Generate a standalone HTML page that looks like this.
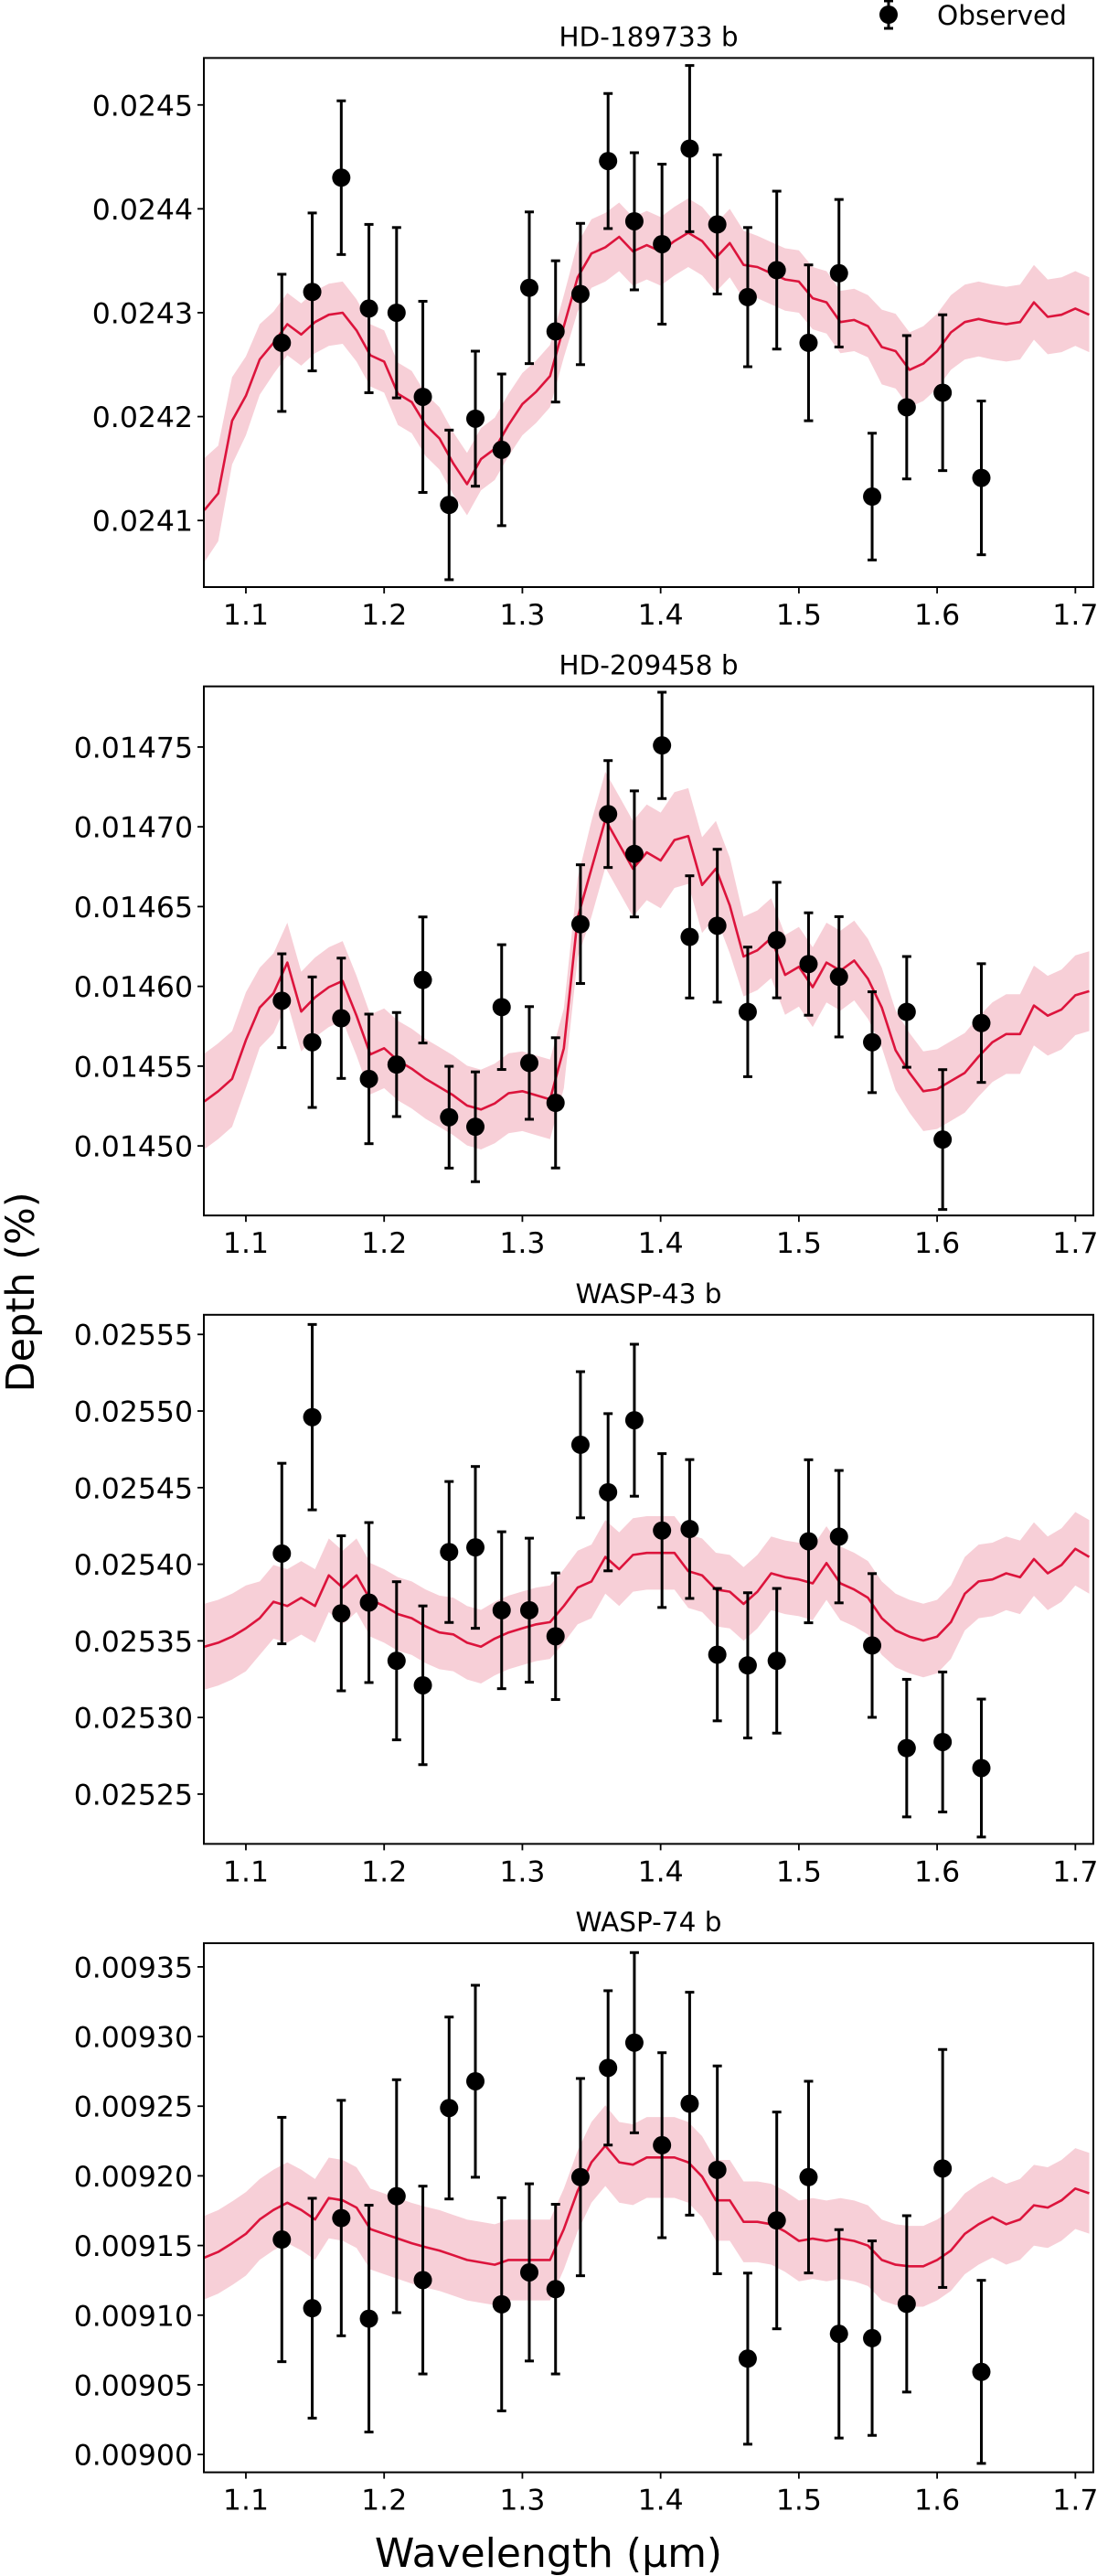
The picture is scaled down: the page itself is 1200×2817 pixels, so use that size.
<!DOCTYPE html>
<html><head><meta charset="utf-8"><style>
html,body{margin:0;padding:0;background:#fff;}
svg{display:block;font-family:"DejaVu Sans","Liberation Sans",sans-serif;}
</style></head><body>
<svg id="fig" width="1200" height="2817" viewBox="0 0 1200 2817" xmlns="http://www.w3.org/2000/svg">
<g>
<line x1="972" y1="1" x2="972" y2="31" stroke="#000" stroke-width="3"/>
<line x1="967" y1="1" x2="977" y2="1" stroke="#000" stroke-width="3"/>
<line x1="967" y1="31" x2="977" y2="31" stroke="#000" stroke-width="3"/>
<circle cx="972" cy="16" r="10" fill="#000"/>
<text x="1025" y="27" font-size="29.5" fill="#000">Observed</text>
</g>
<text transform="translate(37,1413) rotate(-90)" text-anchor="middle" font-size="43" fill="#000">Depth (%)</text>
<text x="600" y="2807" text-anchor="middle" font-size="44" fill="#000">Wavelength (µm)</text>
</svg>
<script>
const wavelengths=[1.126,1.148,1.169,1.189,1.209,1.228,1.247,1.266,1.285,1.305,1.324,1.342,1.362,1.381,1.401,1.421,1.441,1.463,1.484,1.507,1.529,1.553,1.578,1.604,1.632];
const modelWl=[1.07,1.08,1.09,1.10,1.11,1.12,1.13,1.14,1.15,1.16,1.17,1.18,1.19,1.20,1.21,1.22,1.23,1.24,1.25,1.26,1.27,1.28,1.29,1.30,1.31,1.32,1.33,1.34,1.35,1.36,1.37,1.38,1.39,1.40,1.41,1.42,1.43,1.44,1.45,1.46,1.47,1.48,1.49,1.50,1.51,1.52,1.53,1.54,1.55,1.56,1.57,1.58,1.59,1.60,1.61,1.62,1.63,1.64,1.65,1.66,1.67,1.68,1.69,1.70,1.71];
const xTicks=[1.1,1.2,1.3,1.4,1.5,1.6,1.7];
const xTickLabels=["1.1","1.2","1.3","1.4","1.5","1.6","1.7"];
const titles=["HD-189733 b","HD-209458 b","WASP-43 b","WASP-74 b"];

const obsP1=[0.024271,0.024320,0.024430,0.024304,0.024300,0.024219,0.024115,0.024198,0.024168,0.024324,0.024282,0.024318,0.024446,0.024388,0.024366,0.024458,0.024385,0.024315,0.024341,0.024271,0.024338,0.024123,0.024209,0.024223,0.024141];
const errP1=[6.6e-5,7.6e-5,7.4e-5,8.1e-5,8.2e-5,9.2e-5,7.2e-5,6.5e-5,7.3e-5,7.3e-5,6.8e-5,6.8e-5,6.5e-5,6.6e-5,7.7e-5,8.0e-5,6.7e-5,6.7e-5,7.6e-5,7.5e-5,7.1e-5,6.1e-5,6.9e-5,7.5e-5,7.4e-5];
const obsP2=[0.014591,0.014565,0.014580,0.014542,0.014551,0.014604,0.014518,0.014512,0.014587,0.014552,0.014527,0.014639,0.014708,0.014683,0.014751,0.014631,0.014638,0.014584,0.014629,0.014614,0.014606,0.014565,0.014584,0.014504,0.014577];
const errP2=[2.94e-5,4.09e-5,3.77e-5,4.06e-5,3.26e-5,3.95e-5,3.19e-5,3.44e-5,3.91e-5,3.53e-5,4.08e-5,3.72e-5,3.35e-5,3.95e-5,3.33e-5,3.83e-5,4.79e-5,4.06e-5,3.62e-5,3.21e-5,3.77e-5,3.16e-5,3.47e-5,4.38e-5,3.72e-5];
const obsP3=[0.025407,0.025496,0.025368,0.025375,0.025337,0.025321,0.025408,0.025411,0.025370,0.025370,0.025353,0.025478,0.025447,0.025494,0.025422,0.025423,0.025341,0.025334,0.025337,0.025415,0.025418,0.025347,0.025280,0.025284,0.025267];
const errP3=[5.89e-5,6.05e-5,5.06e-5,5.22e-5,5.16e-5,5.18e-5,4.6e-5,5.28e-5,5.12e-5,4.7e-5,4.13e-5,4.77e-5,5.13e-5,4.96e-5,5.02e-5,4.53e-5,4.32e-5,4.74e-5,4.72e-5,5.32e-5,4.32e-5,4.69e-5,4.49e-5,4.57e-5,4.5e-5];
const obsP4=[0.0091543,0.0091050,0.0091697,0.0090975,0.0091854,0.0091252,0.0092487,0.0092679,0.0091078,0.0091307,0.0091187,0.0091991,0.0092775,0.0092956,0.0092220,0.0092518,0.0092043,0.0090688,0.0091680,0.0091991,0.0090866,0.0090835,0.0091081,0.0092053,0.0090593];
const errP4=[8.77e-5,7.89e-5,8.45e-5,8.14e-5,8.36e-5,6.74e-5,6.53e-5,6.89e-5,7.65e-5,6.36e-5,6.09e-5,7.08e-5,5.54e-5,6.47e-5,6.64e-5,8.0e-5,7.46e-5,6.14e-5,7.78e-5,6.88e-5,7.48e-5,6.98e-5,6.33e-5,8.54e-5,6.57e-5];

const modelP1=[0.024110,0.024126,0.024196,0.024220,0.024255,0.024271,0.024289,0.024279,0.024291,0.024298,0.024300,0.024283,0.024259,0.024253,0.024222,0.024214,0.024192,0.024179,0.024155,0.024135,0.024159,0.024169,0.024192,0.024212,0.024224,0.024239,0.024287,0.024334,0.024357,0.024363,0.024373,0.024359,0.024365,0.024359,0.024369,0.024377,0.024369,0.024353,0.024367,0.024346,0.024344,0.024338,0.024332,0.024330,0.024314,0.024310,0.024291,0.024293,0.024287,0.024267,0.024263,0.024245,0.024251,0.024263,0.024281,0.024291,0.024294,0.024291,0.024289,0.024291,0.024310,0.024296,0.024298,0.024304,0.024298];
const modelP2=[0.0145279,0.0145343,0.0145420,0.0145663,0.0145867,0.0145957,0.0146149,0.0145842,0.0145931,0.0145995,0.0146034,0.0145816,0.0145573,0.0145612,0.0145535,0.0145484,0.0145420,0.0145369,0.0145317,0.0145253,0.0145228,0.0145266,0.0145330,0.0145343,0.0145317,0.0145292,0.0145612,0.0146430,0.0146737,0.0147045,0.0146891,0.0146737,0.0146840,0.0146789,0.0146917,0.0146942,0.0146635,0.0146737,0.0146507,0.0146187,0.0146226,0.0146302,0.0146072,0.0146123,0.0145995,0.0146149,0.0146098,0.0146162,0.0146047,0.0145867,0.0145599,0.0145458,0.0145343,0.0145356,0.0145407,0.0145458,0.0145560,0.0145650,0.0145701,0.0145701,0.0145880,0.0145816,0.0145855,0.0145944,0.0145970];
const modelP3=[0.0253462,0.0253488,0.0253528,0.0253582,0.0253648,0.0253755,0.0253728,0.0253781,0.0253728,0.0253928,0.0253848,0.0253928,0.0253768,0.0253728,0.0253675,0.0253648,0.0253595,0.0253555,0.0253542,0.0253488,0.0253462,0.0253515,0.0253555,0.0253582,0.0253608,0.0253622,0.0253728,0.0253848,0.0253888,0.0254048,0.0253968,0.0254061,0.0254074,0.0254074,0.0254074,0.0253955,0.0253928,0.0253835,0.0253821,0.0253741,0.0253821,0.0253941,0.0253915,0.0253901,0.0253875,0.0254008,0.0253875,0.0253835,0.0253781,0.0253648,0.0253568,0.0253528,0.0253502,0.0253528,0.0253622,0.0253808,0.0253888,0.0253901,0.0253941,0.0253915,0.0254034,0.0253941,0.0253995,0.0254101,0.0254048];
const modelP4=[0.0091413,0.0091454,0.0091516,0.0091584,0.0091687,0.0091755,0.0091807,0.0091755,0.0091687,0.0091841,0.0091824,0.0091772,0.0091618,0.0091584,0.0091550,0.0091516,0.0091488,0.0091464,0.0091430,0.0091396,0.0091379,0.0091362,0.0091396,0.0091396,0.0091396,0.0091396,0.0091618,0.0091892,0.0092097,0.0092217,0.0092097,0.0092080,0.0092132,0.0092132,0.0092132,0.0092097,0.0091995,0.0091824,0.0091824,0.0091670,0.0091670,0.0091653,0.0091601,0.0091533,0.0091550,0.0091533,0.0091550,0.0091533,0.0091499,0.0091396,0.0091362,0.0091351,0.0091351,0.0091396,0.0091464,0.0091584,0.0091653,0.0091704,0.0091653,0.0091687,0.0091789,0.0091772,0.0091824,0.0091909,0.0091875];

const bandP1=[5.0e-5,4.6e-5,4.2e-5,3.8e-5,3.4e-5,3e-5,3e-5,3e-5,3e-5,3e-5,3e-5,3e-5,3e-5,3e-5,3e-5,3e-5,3e-5,3e-5,3e-5,3e-5,3e-5,3e-5,3e-5,3e-5,3e-5,3e-5,3e-5,3.3e-5,3.3e-5,3.3e-5,3.3e-5,3.3e-5,3.3e-5,3.3e-5,3.3e-5,3.3e-5,3.3e-5,3.3e-5,3.3e-5,3.3e-5,3e-5,3e-5,3e-5,3e-5,3e-5,3e-5,3e-5,3e-5,3e-5,3.6e-5,3.6e-5,3.6e-5,3.6e-5,3.6e-5,3.6e-5,3.6e-5,3.6e-5,3.6e-5,3.6e-5,3.6e-5,3.6e-5,3.6e-5,3.6e-5,3.6e-5,3.6e-5];
const bandP2=[3e-5,3e-5,3e-5,3e-5,2.5e-5,2.5e-5,2.5e-5,2.5e-5,2.5e-5,2.5e-5,2.5e-5,2.5e-5,2.5e-5,2.5e-5,2.5e-5,2.5e-5,2.5e-5,2.5e-5,2.5e-5,2.5e-5,2.5e-5,2.5e-5,2.5e-5,2.5e-5,2.5e-5,2.5e-5,2.5e-5,2.5e-5,3e-5,3e-5,3e-5,3e-5,3e-5,3e-5,3e-5,3e-5,3e-5,3e-5,3e-5,2.5e-5,2.5e-5,2.5e-5,2.5e-5,2.5e-5,2.5e-5,2.5e-5,2.5e-5,2.5e-5,2.5e-5,2.5e-5,2.5e-5,2.5e-5,2.5e-5,2.5e-5,2.5e-5,2.5e-5,2.5e-5,2.5e-5,2.5e-5,2.5e-5,2.5e-5,2.5e-5,2.5e-5,2.5e-5,2.5e-5];
const bandP3=[2.8e-5,2.8e-5,2.8e-5,2.8e-5,2.4e-5,2.4e-5,2.4e-5,2.4e-5,2.4e-5,2.4e-5,2.4e-5,2.4e-5,2.4e-5,2.4e-5,2.4e-5,2.4e-5,2.4e-5,2.4e-5,2.4e-5,2.4e-5,2.4e-5,2.4e-5,2.4e-5,2.4e-5,2.4e-5,2.4e-5,2.4e-5,2.4e-5,2.4e-5,2.4e-5,2.4e-5,2.4e-5,2.4e-5,2.4e-5,2.4e-5,2.4e-5,2.4e-5,2.4e-5,2.4e-5,2.4e-5,2.4e-5,2.4e-5,2.4e-5,2.4e-5,2.4e-5,2.4e-5,2.4e-5,2.4e-5,2.4e-5,2.4e-5,2.4e-5,2.4e-5,2.4e-5,2.4e-5,2.4e-5,2.4e-5,2.4e-5,2.4e-5,2.4e-5,2.4e-5,2.4e-5,2.4e-5,2.4e-5,2.4e-5,2.4e-5];
const bandP4=[3e-5,3e-5,3e-5,3e-5,2.9e-5,2.9e-5,2.9e-5,2.9e-5,2.9e-5,2.9e-5,2.9e-5,2.9e-5,2.9e-5,2.9e-5,2.9e-5,2.9e-5,2.9e-5,2.9e-5,2.9e-5,2.9e-5,2.9e-5,2.9e-5,2.9e-5,2.9e-5,2.9e-5,2.9e-5,2.9e-5,2.9e-5,2.9e-5,2.9e-5,2.9e-5,2.9e-5,2.9e-5,2.9e-5,2.9e-5,2.9e-5,2.9e-5,2.9e-5,2.9e-5,2.9e-5,2.9e-5,2.9e-5,2.9e-5,2.9e-5,2.9e-5,2.9e-5,2.9e-5,2.9e-5,2.9e-5,2.9e-5,2.9e-5,2.9e-5,2.9e-5,2.9e-5,2.9e-5,2.9e-5,2.9e-5,2.9e-5,2.9e-5,2.9e-5,2.9e-5,2.9e-5,2.9e-5,2.9e-5,2.9e-5];

const yTicksP1=[0.0241,0.0242,0.0243,0.0244,0.0245];
const yLabelsP1=["0.0241","0.0242","0.0243","0.0244","0.0245"];
const yTicksP2=[0.0145,0.01455,0.0146,0.01465,0.0147,0.01475];
const yLabelsP2=["0.01450","0.01455","0.01460","0.01465","0.01470","0.01475"];
const yTicksP3=[0.02525,0.0253,0.02535,0.0254,0.02545,0.0255,0.02555];
const yLabelsP3=["0.02525","0.02530","0.02535","0.02540","0.02545","0.02550","0.02555"];
const yTicksP4=[0.009,0.00905,0.0091,0.00915,0.0092,0.00925,0.0093,0.00935];
const yLabelsP4=["0.00900","0.00905","0.00910","0.00915","0.00920","0.00925","0.00930","0.00935"];

const yDomains=[[0.0240359,0.0245452],[0.0144564,0.014788],[0.0252175,0.0255628],[0.0089872,0.009367]];
const panelTops=[63.4,750.6,1437.8,2125];
const PH=578.6, X0=223, X1=1196, XMIN=1.0696, XMAX=1.713;

const NS="http://www.w3.org/2000/svg";
const svg=document.getElementById('fig');
function mk(tag,attrs,parent){const e=document.createElementNS(NS,tag);for(const k in attrs)e.setAttribute(k,attrs[k]);parent.appendChild(e);return e;}
function xs(v){return X0+(v-XMIN)/(XMAX-XMIN)*(X1-X0);}

const obsAll=[obsP1,obsP2,obsP3,obsP4], errAll=[errP1,errP2,errP3,errP4];
const modelAll=[modelP1,modelP2,modelP3,modelP4], bandAll=[bandP1,bandP2,bandP3,bandP4];
const yTickAll=[yTicksP1,yTicksP2,yTicksP3,yTicksP4], yLabAll=[yLabelsP1,yLabelsP2,yLabelsP3,yLabelsP4];

for(let p=0;p<4;p++){
  const top=panelTops[p], bot=top+PH, [ymin,ymax]=yDomains[p];
  const ys=v=>bot-(v-ymin)/(ymax-ymin)*PH;
  const g=mk('g',{},svg);
  
  
  const cid='clip'+p;
  const cp=mk('clipPath',{id:cid},g); mk('rect',{x:X0,y:top,width:X1-X0,height:PH},cp);
  const plot=mk('g',{'clip-path':'url(#'+cid+')'},g);
  // band
  const m=modelAll[p], b=bandAll[p];
  let up=[],lo=[];
  for(let i=0;i<modelWl.length;i++){up.push(xs(modelWl[i]).toFixed(1)+','+ys(m[i]+b[i]).toFixed(1));lo.unshift(xs(modelWl[i]).toFixed(1)+','+ys(m[i]-b[i]).toFixed(1));}
  const band=mk('polygon',{points:up.concat(lo).join(' '),fill:'#f7cfd7',stroke:'none'},plot);
  
  
  const line=mk('polyline',{points:modelWl.map((w,i)=>xs(w).toFixed(1)+','+ys(m[i]).toFixed(1)).join(' '),fill:'none',stroke:'#dc143c','stroke-width':2.6,'stroke-linejoin':'round'},plot);
  
  
  // observations
  const o=obsAll[p], e=errAll[p];
  for(let i=0;i<wavelengths.length;i++){
    const cx=xs(wavelengths[i]), y1=ys(o[i]+e[i]), y2=ys(o[i]-e[i]);
    const pg=mk('g',{},plot);
    
    
    mk('line',{x1:cx,y1:y1,x2:cx,y2:y2,stroke:'#000','stroke-width':3},pg);
    mk('line',{x1:cx-5,y1:y1,x2:cx+5,y2:y1,stroke:'#000','stroke-width':3},pg);
    mk('line',{x1:cx-5,y1:y2,x2:cx+5,y2:y2,stroke:'#000','stroke-width':3},pg);
    mk('circle',{cx:cx,cy:ys(o[i]),r:10,fill:'#000'},pg);
  }
  // frame
  const fr=mk('rect',{x:X0,y:top,width:X1-X0,height:PH,fill:'none',stroke:'#000','stroke-width':2},g);
  
  
  // title
  const t=mk('text',{x:(X0+X1)/2,y:top-13,'text-anchor':'middle','font-size':29.5,fill:'#000'},g);
  t.textContent=titles[p];
  
  
  // x ticks
  for(let i=0;i<xTicks.length;i++){
    const x=xs(xTicks[i]);
    mk('line',{x1:x,y1:bot,x2:x,y2:bot+7,stroke:'#000','stroke-width':1.8},g);
    const tl=mk('text',{x:x,y:bot+41,'text-anchor':'middle','font-size':31.5,fill:'#000'},g);
    tl.textContent=xTickLabels[i];
    
    
  }
  // y ticks
  const yt=yTickAll[p], yl=yLabAll[p];
  for(let i=0;i<yt.length;i++){
    const y=ys(yt[i]);
    mk('line',{x1:X0-7,y1:y,x2:X0,y2:y,stroke:'#000','stroke-width':1.8},g);
    const tl=mk('text',{x:X0-12,y:y+11.5,'text-anchor':'end','font-size':31.5,fill:'#000'},g);
    tl.textContent=yl[i];
    
    
  }
}
</script>
</body></html>
